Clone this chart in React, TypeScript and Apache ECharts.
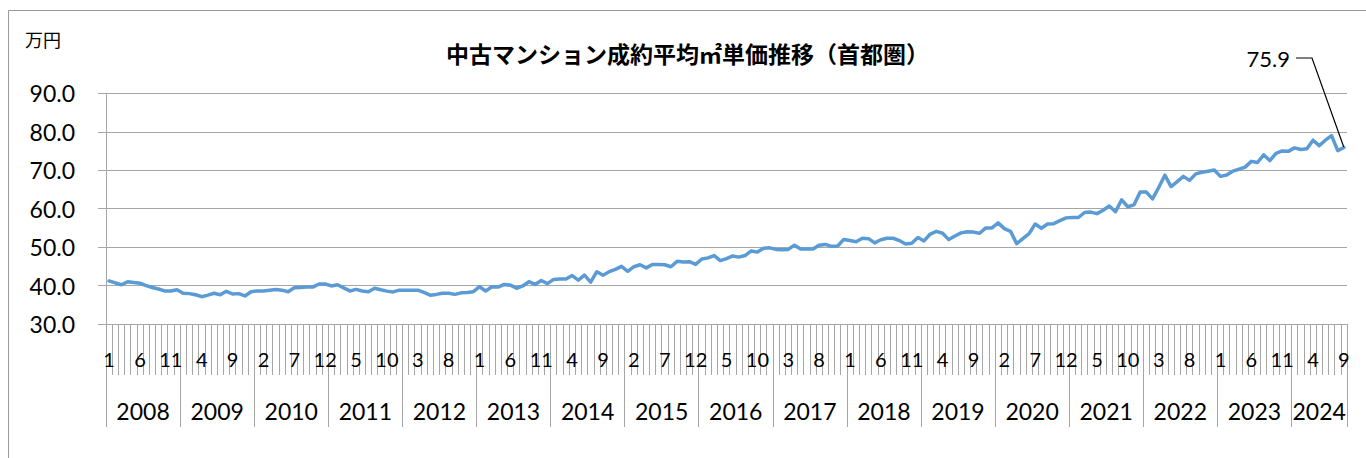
import React, { useEffect, useRef } from "react";
import * as echarts from "echarts";

const TITLE = "中古マンション成約平均㎡単価推移（首都圏）";
const UNIT = "万円";

const years = [2008, 2009, 2010, 2011, 2012, 2013, 2014, 2015, 2016, 2017, 2018, 2019, 2020, 2021, 2022, 2023, 2024];

const v2008 = [41.2, 40.7, 40.2, 41.0, 40.8, 40.6, 40.0, 39.5, 39.1, 38.6, 38.6, 38.9];
const v2009 = [38.0, 37.9, 37.6, 37.1, 37.5, 38.0, 37.6, 38.5, 37.8, 37.9, 37.3, 38.4];
const v2010 = [38.6, 38.6, 38.8, 39.0, 38.8, 38.4, 39.4, 39.5, 39.6, 39.6, 40.4, 40.4];
const v2011 = [39.9, 40.2, 39.4, 38.6, 39.0, 38.6, 38.4, 39.3, 38.9, 38.55, 38.35, 38.8];
const v2012 = [38.8, 38.8, 38.8, 38.2, 37.5, 37.7, 38.0, 38.0, 37.7, 38.1, 38.2, 38.4];
const v2013 = [39.7, 38.6, 39.7, 39.6, 40.3, 40.1, 39.3, 39.9, 41.0, 40.3, 41.3, 40.5];
const v2014 = [41.6, 41.7, 41.7, 42.6, 41.4, 42.7, 40.9, 43.6, 42.7, 43.6, 44.2, 45.0];
const v2015 = [43.7, 44.9, 45.4, 44.6, 45.5, 45.5, 45.4, 44.9, 46.3, 46.1, 46.2, 45.5];
const v2016 = [46.9, 47.2, 47.8, 46.5, 47.0, 47.7, 47.4, 47.8, 49.0, 48.7, 49.7, 49.8];
const v2017 = [49.4, 49.3, 49.4, 50.5, 49.5, 49.5, 49.5, 50.5, 50.7, 50.2, 50.3, 52.0];
const v2018 = [51.7, 51.4, 52.3, 52.2, 51.1, 51.9, 52.3, 52.3, 51.7, 50.8, 51.0, 52.5];
const v2019 = [51.6, 53.4, 54.1, 53.6, 51.95, 52.9, 53.7, 54.0, 53.9, 53.6, 55.0, 55.0];
const v2020 = [56.3, 54.8, 54.1, 50.9, 52.2, 53.5, 56.0, 54.9, 56.0, 56.1, 56.9, 57.6];
const v2021 = [57.7, 57.7, 59.0, 59.1, 58.7, 59.6, 60.7, 59.2, 62.3, 60.5, 61.0, 64.3];
const v2022 = [64.3, 62.55, 65.5, 68.7, 65.75, 67.05, 68.4, 67.35, 69.05, 69.45, 69.75, 70.05];
const v2023 = [68.4, 68.75, 69.75, 70.25, 70.8, 72.3, 72.0, 74.0, 72.5, 74.4, 75.0, 74.9];
const v2024 = [75.8, 75.4, 75.6, 77.8, 76.4, 77.8, 79.0, 75.1, 75.9];

const valuesByYear = [v2008, v2009, v2010, v2011, v2012, v2013, v2014, v2015, v2016, v2017, v2018, v2019, v2020, v2021, v2022, v2023, v2024];

const yTicks = { min: 30, max: 90, interval: 10 };

// derived
const categories: string[] = [];
const monthLabels: string[] = [];
const values: number[] = [];
const yearBounds: number[] = [0];
const yearCenters: number[] = [];
valuesByYear.forEach((arr, yi) => {
  const start = values.length;
  arr.forEach((v, mi) => {
    categories.push(`${years[yi]}-${mi + 1}`);
    monthLabels.push(String(mi + 1));
    values.push(v);
  });
  yearBounds.push(values.length);
  yearCenters.push((start + values.length) / 2);
});
const lastIdx = values.length - 1;

const GRAY = "#a6a6a6";
const NUM_FONT = "Lato, 'Noto Sans', sans-serif";
const JP_FONT = "'Noto Sans CJK JP', 'Noto Sans', sans-serif";

export default function App() {
  const ref = useRef<HTMLDivElement>(null);
  useEffect(() => {
    if (!ref.current) return;
    const chart = echarts.init(ref.current, null, { renderer: "svg" });
    const option: any = {
      animation: false,
      backgroundColor: "#ffffff",
      title: [
        {
          text: TITLE,
          left: 446,
          top: 41,
          padding: 0,
          textStyle: { fontFamily: JP_FONT, fontSize: 23, fontWeight: "bold", color: "#000" },
        },
        {
          text: UNIT,
          left: 25,
          top: 30,
          padding: 0,
          textStyle: { fontFamily: JP_FONT, fontSize: 18, fontWeight: "normal", color: "#000" },
        },
      ],
      graphic: [
        {
          type: "polyline",
          shape: { points: [[8.5, 470], [8.5, 10.5], [1380, 10.5]] },
          style: { stroke: "#9a9a9a", lineWidth: 1, fill: "none" },
          silent: true,
        },
      ],
      grid: {
        left: 106,
        right: 19,
        top: 93.3,
        bottom: 134,
        containLabel: false,
        outerBoundsMode: "none",
      },
      xAxis: [
        {
          type: "category",
          data: categories,
          boundaryGap: true,
          position: "bottom",
          axisLine: { show: true, lineStyle: { color: GRAY, width: 1 } },
          axisTick: { show: true, interval: 0, length: 51, lineStyle: { color: GRAY, width: 1 } },
          axisLabel: {
            interval: 4,
            margin: 25,
            fontFamily: NUM_FONT,
            fontSize: 20,
            color: "#000",
            formatter: (_v: string, idx: number) => monthLabels[idx],
          },
          splitLine: { show: false },
        },
        {
          type: "value",
          min: 0,
          max: values.length,
          position: "bottom",
          axisLine: { show: false },
          axisTick: {
            show: true,
            customValues: yearBounds,
            length: 103,
            lineStyle: { color: GRAY, width: 1 },
          },
          axisLabel: {
            show: true,
            customValues: yearCenters,
            margin: 75,
            fontFamily: NUM_FONT,
            fontSize: 23,
            color: "#000",
            formatter: (v: number) => {
              const i = yearCenters.findIndex((c) => Math.abs(c - v) < 0.01);
              return i >= 0 ? String(years[i]) : "";
            },
          },
          splitLine: { show: false },
        },
      ],
      yAxis: {
        type: "value",
        min: yTicks.min,
        max: yTicks.max,
        interval: yTicks.interval,
        axisLine: { show: true, lineStyle: { color: GRAY, width: 1 } },
        axisTick: { show: true, length: 8, lineStyle: { color: GRAY, width: 1 } },
        axisLabel: {
          margin: 31,
          fontFamily: NUM_FONT,
          fontSize: 23,
          color: "#000",
          formatter: (v: number) => v.toFixed(1),
        },
        splitLine: { show: true, lineStyle: { color: GRAY, width: 1 } },
      },
      series: [
        {
          type: "line",
          xAxisIndex: 0,
          data: values,
          showSymbol: false,
          symbol: "none",
          lineStyle: { color: "#5b9bd5", width: 3.5, join: "round", cap: "round" },
          itemStyle: { color: "#5b9bd5" },
          z: 3,
        },
        {
          type: "scatter",
          xAxisIndex: 0,
          data: [[lastIdx, values[lastIdx]]],
          symbol: "circle",
          symbolSize: 1,
          itemStyle: { color: "rgba(91,155,213,0)" },
          z: 4,
          label: {
            show: true,
            formatter: (p: any) => p.value[1].toFixed(1),
            fontFamily: NUM_FONT,
            fontSize: 22,
            color: "#000",
            opacity: 1,
            padding: [0, 6, 0, 16],
            lineHeight: 16,
          },
          labelLine: {
            show: true,
            length2: 16,
            minTurnAngle: 30,
            lineStyle: { color: "#000", width: 1.2 },
          },
          labelLayout: { x: 1296, y: 58, align: "right", verticalAlign: "middle" },
        },
      ],
    };
    chart.setOption(option);
    return () => chart.dispose();
  }, []);
  return (
    <div
      ref={ref}
      style={{ position: "absolute", left: 0, top: 0, width: 1366, height: 458, background: "#fff" }}
    />
  );
}
